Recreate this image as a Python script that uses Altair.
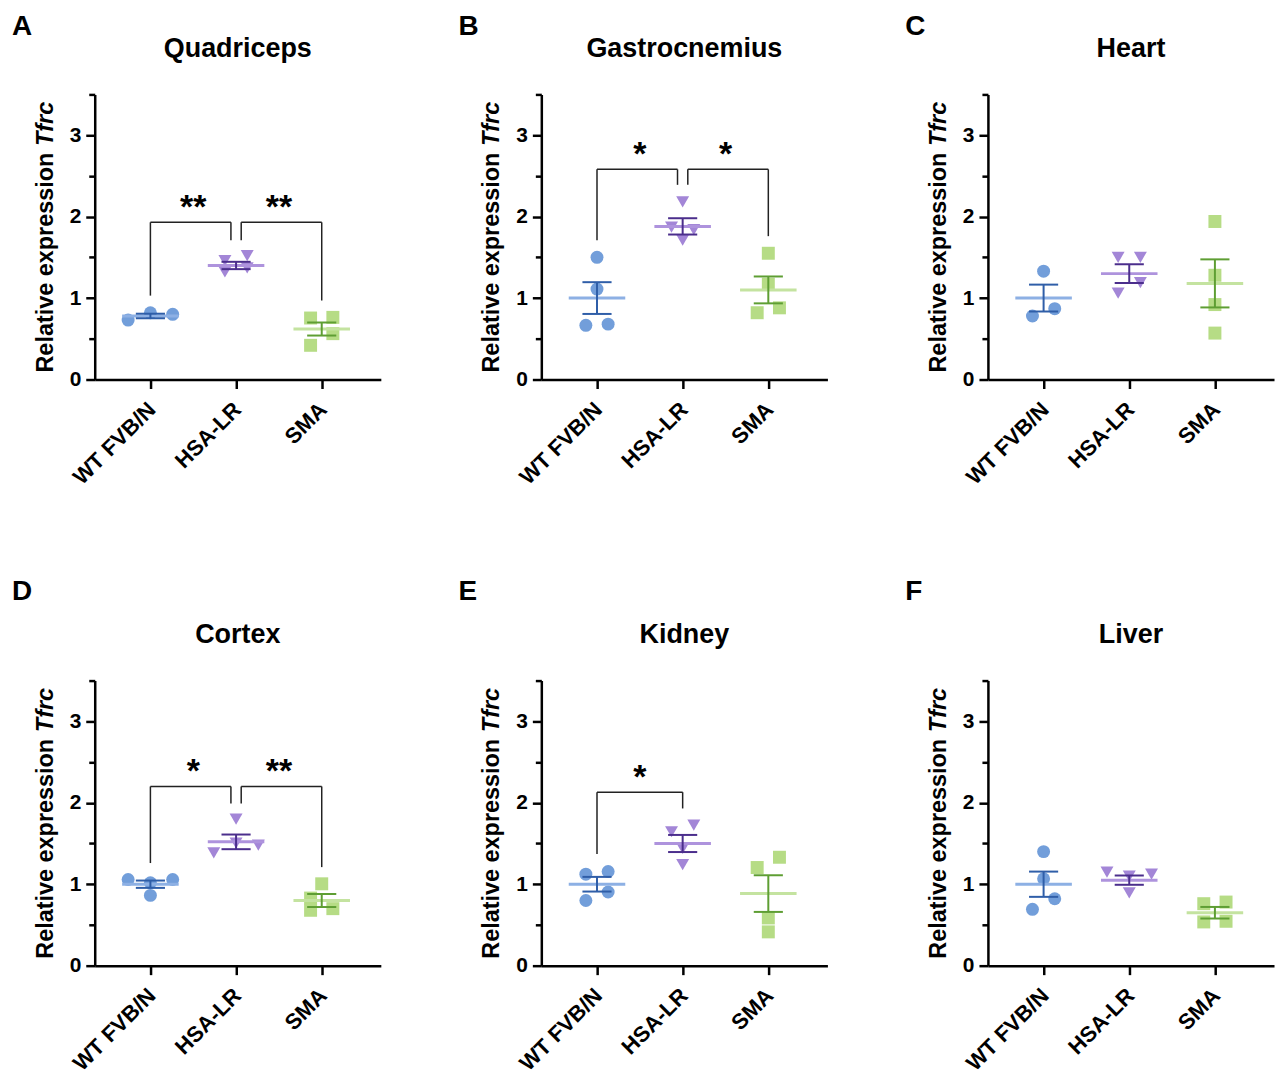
import altair as alt
import pandas as pd

GROUPS = ["WT FVB/N", "HSA-LR", "SMA"]
TISSUES = ["Quadriceps", "Gastrocnemius", "Heart", "Cortex", "Kidney", "Liver"]
LETTERS = ["A", "B", "C", "D", "E", "F"]

# individual values per tissue, per group
POINTS = {
    "Quadriceps":    [[0.73, 0.82, 0.80], [1.46, 1.52, 1.32, 1.37], [0.755, 0.763, 0.563, 0.42]],
    "Gastrocnemius": [[1.50, 1.11, 0.665, 0.68], [2.18, 1.87, 1.84, 1.71], [1.55, 1.17, 0.82, 0.88]],
    "Heart":         [[1.33, 0.87, 0.78], [1.50, 1.50, 1.19, 1.06], [1.94, 1.28, 0.92, 0.57]],
    "Cortex":        [[1.058, 1.058, 1.018, 0.863], [1.80, 1.506, 1.384, 1.48], [1.005, 0.83, 0.70, 0.68]],
    "Kidney":        [[1.123, 1.156, 0.904, 0.80], [1.644, 1.726, 1.441, 1.241], [1.205, 1.331, 0.586, 0.415]],
    "Liver":         [[1.40, 1.066, 0.822, 0.692], [1.148, 1.123, 1.099, 0.895], [0.761, 0.781, 0.537, 0.545]],
}
# scatter slot of each point (side-by-side placement of close values)
SLOTS = {
    "Quadriceps":    [[-2, 0, 2], [-1, 1, -1, 1], [-1, 1, 1, -1]],
    "Gastrocnemius": [[0, 0, -1, 1], [0, -1, 1, 0], [0, 0, -1, 1]],
    "Heart":         [[0, 1, -1], [-1, 1, 1, -1], [0, 0, 0, 0]],
    "Cortex":        [[-2, 2, 0, 0], [0, 0, -2, 2], [0, -1, 1, -1]],
    "Kidney":        [[-1, 1, 1, -1], [-1, 1, 0, 0], [-1, 1, 0, 0]],
    "Liver":         [[0, 0, 1, -1], [-2, 2, 0, 0], [-1, 1, -1, 1]],
}
MEANS = {
    "Quadriceps":    [0.78, 1.40, 0.62],
    "Gastrocnemius": [1.00, 1.88, 1.10],
    "Heart":         [1.00, 1.30, 1.18],
    "Cortex":        [1.00, 1.52, 0.80],
    "Kidney":        [1.00, 1.50, 0.885],
    "Liver":         [1.00, 1.05, 0.65],
}
SEMS = {
    "Quadriceps":    [0.028, 0.045, 0.08],
    "Gastrocnemius": [0.195, 0.10, 0.165],
    "Heart":         [0.165, 0.115, 0.295],
    "Cortex":        [0.045, 0.09, 0.08],
    "Kidney":        [0.09, 0.105, 0.225],
    "Liver":         [0.155, 0.057, 0.071],
}
# (group from, group to, bracket top, left leg bottom, right leg bottom, label)
BRACKETS = {
    "Quadriceps":    [(0, 1, 1.93, 1.03, 1.71, "**"), (1, 2, 1.93, 1.71, 0.97, "**")],
    "Gastrocnemius": [(0, 1, 2.58, 1.71, 2.39, "*"), (1, 2, 2.58, 2.39, 1.76, "*")],
    "Heart":         [],
    "Cortex":        [(0, 1, 2.20, 1.26, 1.99, "*"), (1, 2, 2.20, 1.99, 1.21, "**")],
    "Kidney":        [(0, 1, 2.13, 1.37, 1.93, "*")],
    "Liver":         [],
}

Y_TITLE = "Relative expression "
Y_TITLE_GENE = "Tfrc"

# ---- styling ----
FONT = "Liberation Sans"
PT_COLORS = ["#729EDA", "#A386D7", "#B6DC85"]
MEAN_COLORS = ["#8DB0E4", "#AE93DD", "#C4E3A0"]
SEM_COLORS = ["#2F5EA8", "#4B2E8C", "#5E9E33"]
SHAPES = ["circle", "triangle-down", "square"]
W, H = 287, 286
SLOT_W = 0.13
MEAN_HALF = 0.33
CAP_HALF = 0.17
GAP = 0.06
TITLE_FS = 27
YT_FS = 23.5


def panel(k):
    tissue = TISSUES[k]
    row = k // 3
    pts = pd.DataFrame([
        {"g": GROUPS[gi], "gi": gi, "v": v, "s": s}
        for gi, (vals, slots) in enumerate(zip(POINTS[tissue], SLOTS[tissue]))
        for v, s in zip(vals, slots)
    ])
    stats = pd.DataFrame({"g": GROUPS, "gi": [0, 1, 2], "m": MEANS[tissue], "e": SEMS[tissue]})

    xscale = alt.Scale(domain=[-0.65, 2.69], nice=False, zero=False)
    yscale = alt.Scale(domain=[0, 3.5], nice=False, zero=True)
    xaxis = alt.Axis(values=[0, 1, 2], title=None, grid=False,
                     labelExpr="['WT FVB/N','HSA-LR','SMA'][datum.value]",
                     labelAngle=315, labelAlign="right", labelBaseline="top",
                     labelFontSize=22, labelPadding=10, labelOffset=-6, tickSize=9,
                     domainColor="black", domainWidth=2.5, tickColor="black", tickWidth=2.5,
                     labelColor="black", labelFont=FONT, labelFontWeight="bold")
    yaxis = alt.Axis(values=[0, 0.5, 1, 1.5, 2, 2.5, 3, 3.5], title=None, grid=False,
                     labelExpr="datum.value % 1 === 0 ? format(datum.value, 'd') : ''",
                     labelFontSize=21, labelPadding=5,
                     tickSize={"condition": {"test": "datum.value % 1 === 0", "value": 9}, "value": 6},
                     domainColor="black", domainWidth=2.5, tickColor="black", tickWidth=2.5,
                     labelColor="black", labelFont=FONT, labelFontWeight="bold")
    X = lambda f: alt.X(f, scale=xscale, axis=xaxis)
    Y = lambda f: alt.Y(f, scale=yscale, axis=yaxis)

    points = alt.Chart(pts).transform_calculate(
        x=f"datum.gi + datum.s * {SLOT_W}"
    ).mark_point(filled=True, opacity=1, size=169, strokeWidth=0).encode(
        x=X("x:Q"), y=Y("v:Q"),
        color=alt.Color("g:N", scale=alt.Scale(domain=GROUPS, range=PT_COLORS), legend=None),
        shape=alt.Shape("g:N", scale=alt.Scale(domain=GROUPS, range=SHAPES), legend=None),
    )
    mean = alt.Chart(stats).transform_calculate(
        x1=f"datum.gi - {MEAN_HALF}", x2=f"datum.gi + {MEAN_HALF}"
    ).mark_rule(strokeWidth=3).encode(
        x=X("x1:Q"), x2="x2:Q", y=Y("m:Q"),
        color=alt.Color("g:N", scale=alt.Scale(domain=GROUPS, range=MEAN_COLORS), legend=None),
    )
    sem_color = alt.Color("g:N", scale=alt.Scale(domain=GROUPS, range=SEM_COLORS), legend=None)
    sem = alt.Chart(stats).transform_calculate(
        lo="datum.m - datum.e", hi="datum.m + datum.e"
    ).mark_rule(strokeWidth=2).encode(
        x=X("gi:Q"), y=Y("lo:Q"), y2="hi:Q", color=sem_color,
    )
    caps = alt.Chart(stats).transform_calculate(
        lo="datum.m - datum.e", hi="datum.m + datum.e",
        x1=f"datum.gi - {CAP_HALF}", x2=f"datum.gi + {CAP_HALF}"
    ).transform_fold(["lo", "hi"], as_=["end", "yv"]).mark_rule(strokeWidth=2).encode(
        x=X("x1:Q"), x2="x2:Q", y=Y("yv:Q"), color=sem_color,
    )
    layers = [points, mean, sem, caps]

    br = BRACKETS[tissue]
    if br:
        segs, labels = [], []
        two = len(br) > 1
        for (a, b, top, lb, rb, lab) in br:
            x1 = a + (GAP if (two and a == 1) else 0)
            x2 = b - (GAP if (two and b == 1) else 0)
            segs.append({"x": x1, "x2": x2, "y": top, "y2": top})
            segs.append({"x": x1, "x2": x1, "y": lb, "y2": top})
            segs.append({"x": x2, "x2": x2, "y": rb, "y2": top})
            labels.append({"x": (a + b) / 2, "y": top, "t": lab})
        layers.append(alt.Chart(pd.DataFrame(segs)).mark_rule(strokeWidth=1.5, color="#222").encode(
            x=X("x:Q"), x2="x2:Q", y=Y("y:Q"), y2="y2:Q"))
        layers.append(alt.Chart(pd.DataFrame(labels)).mark_text(
            font=FONT, fontSize=34, fontWeight="bold", baseline="alphabetic", dy=-4, color="black"
        ).encode(x=X("x:Q"), y=Y("y:Q"), text="t:N"))

    # panel annotations
    one = pd.DataFrame({"t": [LETTERS[k]], "title": [tissue], "y1": [Y_TITLE], "y2": [Y_TITLE_GENE]})
    letter_y = -60 if row == 0 else -81
    layers.append(alt.Chart(one).mark_text(font=FONT, fontSize=28, fontWeight="bold",
                                           align="left", baseline="alphabetic", color="black").encode(
        text="t:N", x=alt.value(-83), y=alt.value(letter_y)))
    layers.append(alt.Chart(one).mark_text(font=FONT, fontSize=TITLE_FS, fontWeight="bold",
                                           align="center", baseline="alphabetic", color="black").encode(
        text="title:N", x=alt.value(W / 2), y=alt.value(-38)))
    ybot = 279
    layers.append(alt.Chart(one).mark_text(font=FONT, fontSize=YT_FS, fontWeight="bold", angle=270,
                                           align="left", baseline="alphabetic", color="black").encode(
        text="y1:N", x=alt.value(-42), y=alt.value(ybot)))
    layers.append(alt.Chart(one).mark_text(font=FONT, fontSize=YT_FS, fontWeight="bold", fontStyle="italic",
                                           angle=270, align="left", baseline="alphabetic", color="black").encode(
        text="y2:N", x=alt.value(-42), y=alt.value(ybot - 9.671 * YT_FS)))

    return alt.layer(*layers).resolve_scale(color="independent", shape="independent").properties(
        width=W, height=H)


chart = alt.concat(*[panel(k) for k in range(6)], columns=3,
                   spacing={"row": 302, "column": 161}, bounds="flush").properties(
    padding={"top": 3, "left": 4, "right": 5, "bottom": 5}
).configure_view(stroke=None)

chart.save("out.html", embed_options={"renderer": "svg", "actions": False})
